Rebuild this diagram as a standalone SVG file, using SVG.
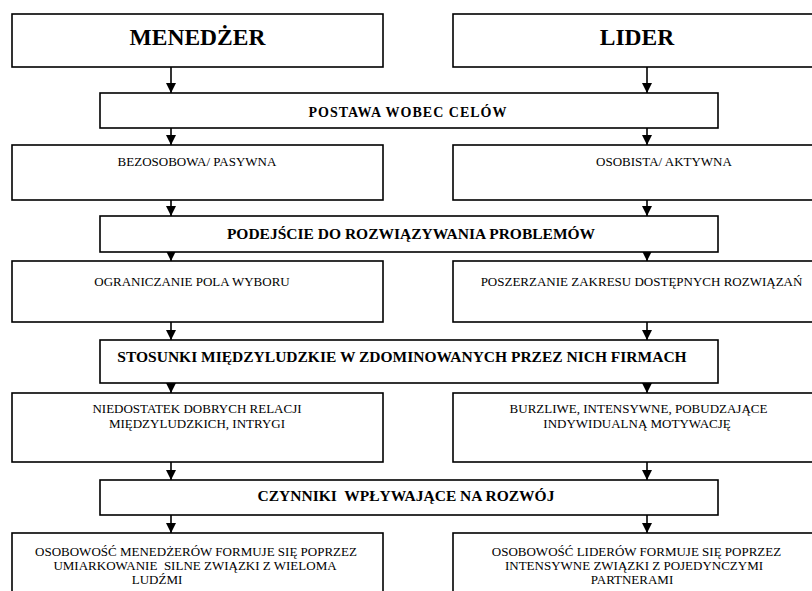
<svg xmlns="http://www.w3.org/2000/svg" width="812" height="591" viewBox="0 0 812 591">
<style>
.box{fill:#fff;stroke:#000;stroke-width:1.6}
text{font-family:"Liberation Serif","Times New Roman",serif;fill:#000;text-anchor:middle}
.h{font-size:23.5px;font-weight:bold}
.c{font-size:15.5px;font-weight:bold}
.t{font-size:13px}
.con line{stroke:#000;stroke-width:1.6;marker-end:url(#ah)}
</style>
<defs>
<marker id="ah" viewBox="0 0 10 10" refX="10" refY="5" markerWidth="11" markerHeight="10" markerUnits="userSpaceOnUse" orient="auto">
<path d="M0,0 L10,5 L0,10 z" fill="#000"/>
</marker>
</defs>
<rect width="812" height="591" fill="#fff"/>
<g class="con">
<line x1="171" y1="67" x2="171" y2="93"/>
<line x1="647" y1="67" x2="647" y2="93"/>
<line x1="171" y1="128" x2="171" y2="145"/>
<line x1="647" y1="128" x2="647" y2="145"/>
<line x1="171" y1="200" x2="171" y2="216"/>
<line x1="647" y1="200" x2="647" y2="216"/>
<line x1="171" y1="252" x2="171" y2="261"/>
<line x1="647" y1="252" x2="647" y2="261"/>
<line x1="171" y1="322" x2="171" y2="340"/>
<line x1="647" y1="322" x2="647" y2="340"/>
<line x1="171" y1="383" x2="171" y2="393"/>
<line x1="647" y1="383" x2="647" y2="393"/>
<line x1="171" y1="462" x2="171" y2="480"/>
<line x1="647" y1="462" x2="647" y2="480"/>
<line x1="171" y1="515" x2="171" y2="533"/>
<line x1="647" y1="515" x2="647" y2="533"/>
</g>
<g id="menedzer"><rect class="box" x="12" y="14" width="371" height="53"/><text class="h" x="197.5" y="45">MENEDŻER</text></g>
<g id="lider"><rect class="box" x="453" y="14" width="370" height="53"/><text class="h" x="637" y="45">LIDER</text></g>
<g id="postawa"><rect class="box" x="100" y="93" width="618" height="35"/><text class="c" x="408" y="117" style="font-size:14px;letter-spacing:1px">POSTAWA WOBEC CELÓW</text></g>
<g id="bezosobowa"><rect class="box" x="12" y="145" width="371" height="55"/><text class="t" x="197" y="166">BEZOSOBOWA/ PASYWNA</text></g>
<g id="osobista"><rect class="box" x="453" y="145" width="370" height="55"/><text class="t" x="664" y="166">OSOBISTA/ AKTYWNA</text></g>
<g id="podejscie"><rect class="box" x="100" y="216" width="618" height="36"/><text class="c" x="411" y="239">PODEJŚCIE DO ROZWIĄZYWANIA PROBLEMÓW</text></g>
<g id="ograniczanie"><rect class="box" x="12" y="261" width="371" height="61"/><text class="t" x="192" y="286">OGRANICZANIE POLA WYBORU</text></g>
<g id="poszerzanie"><rect class="box" x="453" y="261" width="370" height="61"/><text class="t" x="641.5" y="286">POSZERZANIE ZAKRESU DOSTĘPNYCH ROZWIĄZAŃ</text></g>
<g id="stosunki"><rect class="box" x="100" y="340" width="618" height="43"/><text class="c" x="402" y="362">STOSUNKI MIĘDZYLUDZKIE W ZDOMINOWANYCH PRZEZ NICH FIRMACH</text></g>
<g id="niedostatek"><rect class="box" x="12" y="393" width="371" height="69"/><text class="t" x="197" y="413">NIEDOSTATEK DOBRYCH RELACJI</text><text class="t" x="197" y="428">MIĘDZYLUDZKICH, INTRYGI</text></g>
<g id="burzliwe"><rect class="box" x="453" y="393" width="370" height="69"/><text class="t" x="638.5" y="413">BURZLIWE, INTENSYWNE, POBUDZAJĄCE</text><text class="t" x="637" y="428">INDYWIDUALNĄ MOTYWACJĘ</text></g>
<g id="czynniki"><rect class="box" x="100" y="480" width="618" height="35"/><text class="c" x="406" y="501" xml:space="preserve">CZYNNIKI  WPŁYWAJĄCE NA ROZWÓJ</text></g>
<g id="osobowosc-menedzerow"><rect class="box" x="12" y="533" width="371" height="70"/><text class="t" x="196" y="556">OSOBOWOŚĆ MENEDŻERÓW FORMUJE SIĘ POPRZEZ</text><text class="t" x="195" y="570" xml:space="preserve">UMIARKOWANIE  SILNE ZWIĄZKI Z WIELOMA</text><text class="t" x="157" y="584">LUDŹMI</text></g>
<g id="osobowosc-liderow"><rect class="box" x="453" y="533" width="370" height="70"/><text class="t" x="636.5" y="556">OSOBOWOŚĆ LIDERÓW FORMUJE SIĘ POPRZEZ</text><text class="t" x="634" y="570">INTENSYWNE ZWIĄZKI Z POJEDYNCZYMI</text><text class="t" x="632" y="584">PARTNERAMI</text></g>
</svg>
